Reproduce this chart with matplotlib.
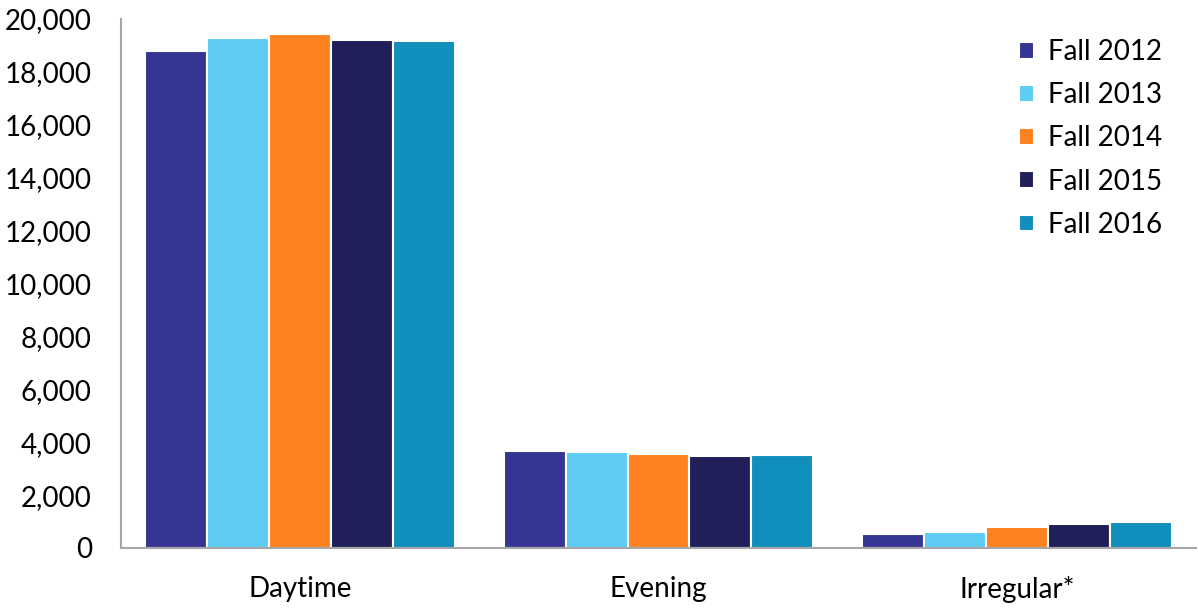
import numpy as np
import matplotlib
matplotlib.use("Agg")
import matplotlib.pyplot as plt
from matplotlib.ticker import FuncFormatter

# data
categories = ["Daytime", "Evening", "Irregular*"]
series_names = ["Fall 2012", "Fall 2013", "Fall 2014", "Fall 2015", "Fall 2016"]
fall_2012 = [18790, 3655, 518]
fall_2013 = [19290, 3617, 605]
fall_2014 = [19420, 3566, 794]
fall_2015 = [19195, 3466, 919]
fall_2016 = [19160, 3504, 972]
colors = ["#353594", "#5ECBF2", "#FF8221", "#201F5A", "#118FBC"]

plt.rcParams['font.family'] = ['Lato', 'DejaVu Sans']

fig = plt.figure(figsize=(11.98, 6.08), dpi=100)
ax = fig.add_axes([121/1198, 60/608, 1075/1198, 529/608])

values = [fall_2012, fall_2013, fall_2014, fall_2015, fall_2016]
x = np.arange(len(categories))
group_w = 0.865
bw = group_w / len(values)
for i, (vals, name) in enumerate(zip(values, series_names)):
    off = -group_w/2 + bw*(i + 0.5)
    ax.bar(x + off, vals, bw, color=colors[i], edgecolor="white",
           linewidth=1.5, label=name, zorder=2)

ax.set_xlim(-0.5, 2.5)
ax.set_ylim(0, 20000)
ax.set_yticks(np.arange(0, 20001, 2000))
ax.yaxis.set_major_formatter(FuncFormatter(lambda v, p: f"{int(v):,}"))
ax.set_xticks(x)
ax.set_xticklabels(categories)
ax.tick_params(axis="both", length=0, labelsize=20, colors="black")
ax.tick_params(axis="x", pad=20)
ax.tick_params(axis="y", pad=21)

for s in ["top", "right"]:
    ax.spines[s].set_visible(False)
for s in ["left", "bottom"]:
    ax.spines[s].set_color("#A6A6A6")
    ax.spines[s].set_linewidth(1.5)

leg = fig.legend(loc="upper left", bbox_to_anchor=(1019/1198, 1 - 39/608),
                 frameon=False, fontsize=20, handlelength=0.55, handleheight=0.55,
                 labelspacing=0.62, handletextpad=0.5, borderpad=0,
                 borderaxespad=0)

fig.savefig("out.png", dpi=100)
